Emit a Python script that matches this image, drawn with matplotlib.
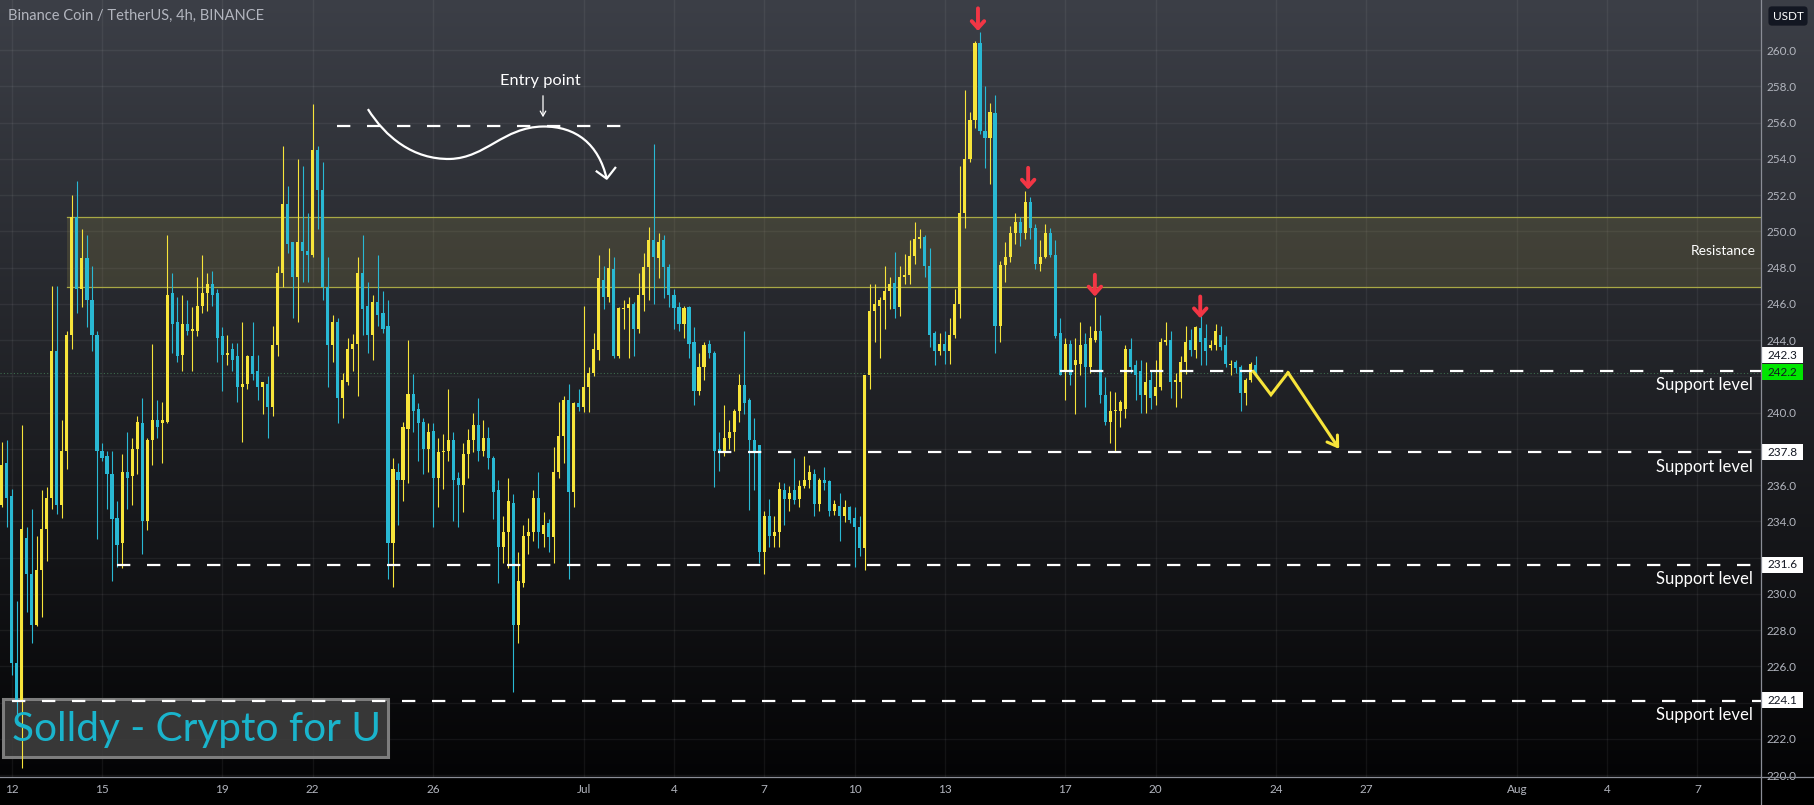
import numpy as np
import matplotlib
matplotlib.use("Agg")
import matplotlib.pyplot as plt
from matplotlib.patches import Rectangle, PathPatch
from matplotlib.path import Path

plt.rcParams['font.family'] = ['Lato', 'DejaVu Sans']

# 4h candles, index 0 = Jun 12 00:00
first_idx = -2
opens = [234.9, 237.2, 235.4, 226.2, 224.1, 233.1, 231.1, 228.3, 231.3, 233.6,
         235.3, 243.4, 234.9, 237.9, 244.3, 250.8, 246.8, 248.5, 246.2, 244.3,
         237.9, 237.6, 236.6, 234.2, 232.8, 236.7, 236.5, 238.0, 239.4, 234.0,
         238.5, 239.6, 239.4, 239.5, 246.6, 245.0, 243.2, 244.9, 244.5, 244.5,
         245.9, 246.6, 247.1, 246.6, 244.2, 243.2, 243.5, 243.1, 241.4, 241.6,
         243.1, 242.3, 241.4, 241.6, 240.3, 243.7, 247.7, 251.5, 249.4, 247.5,
         249.4, 248.9, 248.7, 254.5, 252.3, 246.9, 243.7, 245.0, 240.8, 241.7,
         243.5, 243.8, 247.7, 245.9, 244.3, 246.1, 245.5, 244.8, 232.8, 236.7,
         236.3, 239.1, 241.0, 240.2, 239.5, 238.0, 239.0, 236.4, 237.8, 237.9,
         238.5, 236.4, 236.0, 237.7, 238.5, 239.3, 237.9, 238.6, 237.5, 235.7,
         232.6, 233.4, 235.0, 228.3, 230.6, 233.2, 233.4, 235.3, 233.3, 233.9,
         233.15, 236.7, 238.7, 240.7, 235.6, 240.5, 240.3, 241.4, 242.2, 243.45,
         247.3, 246.4, 247.9, 243.1, 245.7, 245.75, 246.0, 244.6, 246.5, 248.05,
         249.5, 248.5, 249.5, 248.05, 246.5, 245.8, 244.9, 245.8, 243.9, 241.2,
         242.5, 243.8, 243.3, 238.0, 237.8, 238.6, 238.9, 240.1, 241.5, 240.7,
         238.5, 238.2, 232.3, 234.3, 233.2, 233.4, 235.7, 235.25, 235.75, 235.25,
         235.95, 236.3, 236.6, 234.96, 236.3, 236.2, 234.56, 234.86, 234.3, 234.76,
         234.16, 233.67, 232.5, 242.05, 245.6, 245.9, 246.2, 246.7, 247.17, 245.8,
         247.5, 247.57, 248.65, 249.6, 249.7, 248.06, 244.4, 243.4, 243.8, 243.4,
         244.3, 246.0, 251.0, 253.97, 256.14, 260.4, 255.55, 255.15, 256.5, 244.8,
         248.15, 248.6, 249.9, 250.5, 249.9, 251.6, 250.2, 248.2, 248.6, 249.9,
         248.7, 244.4, 242.3, 243.8, 242.6, 242.7, 243.8, 242.5, 244.0, 244.5,
         240.97, 239.5, 240.07, 240.1, 240.2, 243.5, 242.6, 242.3, 240.97, 241.8,
         240.9, 241.4, 243.9, 244.0, 241.7, 241.7, 242.8, 244.0, 243.45, 244.65,
         244.1, 243.55, 243.7, 244.3, 243.7, 242.6, 242.8, 242.5, 241.05, 241.8,
         242.6]
highs = [238.4, 238.5, 235.8, 229.6, 239.3, 233.7, 234.7, 233.2, 235.7, 235.9,
         247.0, 247.0, 239.6, 244.5, 252.0, 252.8, 250.1, 249.8, 248.1, 244.5,
         238.3, 237.9, 237.9, 235.1, 237.7, 238.9, 238.6, 239.8, 240.8, 238.6,
         243.8, 240.7, 240.6, 249.8, 247.7, 246.4, 246.5, 246.2, 245.8, 247.5,
         248.7, 247.7, 247.8, 246.8, 244.7, 244.3, 243.85, 243.85, 245.0, 243.2,
         245.0, 243.2, 241.7, 242.0, 244.8, 248.1, 254.7, 252.5, 249.4, 254.0,
         253.6, 251.0, 257.0, 254.7, 253.8, 248.6, 245.4, 245.2, 242.2, 244.1,
         244.35, 248.6, 249.8, 247.2, 246.5, 248.7, 246.7, 246.2, 237.5, 237.2,
         239.5, 244.0, 242.1, 240.5, 239.7, 239.4, 239.4, 238.6, 238.8, 241.3,
         238.9, 236.7, 238.3, 239.1, 240.0, 240.8, 239.6, 239.2, 237.6, 236.3,
         234.3, 236.4, 235.5, 232.3, 233.8, 234.2, 235.7, 236.7, 234.5, 234.1,
         238.1, 240.6, 240.9, 241.6, 240.6, 241.3, 245.9, 242.5, 244.4, 248.7,
         248.1, 249.1, 248.6, 245.8, 246.2, 246.4, 246.1, 247.7, 248.8, 250.25,
         254.8, 249.9, 249.8, 248.2, 246.8, 246.1, 245.9, 245.9, 244.7, 243.3,
         243.9, 244.0, 243.4, 238.9, 240.4, 239.6, 240.2, 242.1, 244.5, 240.8,
         239.7, 238.2, 234.56, 235.25, 234.3, 236.15, 236.1, 235.95, 237.5, 236.3,
         237.6, 237.1, 236.9, 236.4, 237.0, 236.3, 235.15, 235.55, 235.15, 234.86,
         234.76, 234.27, 242.05, 247.1, 247.1, 246.4, 248.06, 247.5, 248.85, 248.06,
         248.75, 249.5, 250.5, 250.1, 249.8, 249.05, 244.5, 244.4, 244.5, 245.2,
         246.8, 253.6, 257.8, 256.6, 260.5, 261.0, 258.0, 257.1, 257.5, 248.35,
         249.4, 250.3, 251.0, 250.8, 252.2, 251.9, 250.4, 249.5, 250.4, 250.2,
         249.5, 245.2, 244.1, 244.0, 244.1, 245.0, 244.4, 244.8, 246.4, 245.4,
         241.98, 241.2, 241.15, 240.7, 243.7, 244.1, 242.9, 242.9, 242.8, 242.35,
         242.9, 244.1, 245.0, 244.5, 242.2, 243.1, 244.8, 244.6, 244.8, 245.3,
         244.9, 243.98, 244.9, 244.8, 244.2, 242.9, 242.9, 242.6, 241.9, 242.8,
         243.1]
lows = [234.8, 233.7, 225.5, 223.2, 220.4, 229.0, 227.3, 228.2, 228.7, 231.8,
        234.7, 234.4, 234.2, 236.9, 243.5, 245.5, 245.8, 244.7, 243.4, 233.0,
        237.3, 234.7, 230.7, 231.5, 231.4, 234.7, 234.9, 236.6, 232.2, 233.5,
        237.1, 238.6, 237.2, 239.4, 243.3, 242.8, 242.3, 244.3, 242.3, 244.2,
        245.5, 245.6, 245.9, 242.8, 241.2, 242.6, 242.3, 240.6, 238.4, 241.3,
        241.8, 240.7, 239.9, 238.6, 239.8, 243.1, 246.9, 248.8, 245.2, 245.0,
        247.2, 247.2, 248.6, 250.1, 246.2, 241.4, 242.8, 239.4, 239.7, 241.5,
        242.3, 240.9, 244.3, 243.3, 242.9, 244.8, 244.4, 230.8, 230.4, 233.8,
        235.1, 236.1, 238.9, 237.3, 236.6, 236.7, 233.7, 234.8, 235.8, 237.3,
        234.0, 233.7, 234.5, 236.4, 237.8, 237.3, 237.6, 236.9, 234.1, 230.6,
        231.7, 231.4, 224.6, 227.3, 230.4, 232.2, 232.9, 232.5, 232.6, 232.3,
        231.7, 236.4, 237.2, 230.8, 234.8, 240.1, 240.05, 240.05, 242.0, 242.9,
        245.7, 246.1, 243.0, 243.0, 244.6, 243.0, 243.1, 244.4, 245.6, 246.2,
        246.0, 247.4, 246.3, 245.8, 244.6, 244.5, 244.1, 243.0, 240.4, 240.97,
        241.8, 243.0, 235.9, 236.8, 237.6, 238.0, 237.9, 239.5, 239.9, 234.6,
        235.7, 231.7, 231.1, 232.6, 232.6, 232.6, 233.8, 234.56, 234.96, 234.8,
        235.85, 235.85, 234.3, 234.56, 235.75, 234.3, 234.36, 232.9, 233.97, 233.9,
        231.5, 232.1, 231.3, 241.3, 243.9, 243.0, 244.6, 245.7, 245.2, 245.3,
        247.07, 247.07, 248.2, 249.05, 247.47, 243.6, 242.6, 243.2, 242.7, 242.7,
        244.1, 245.2, 250.2, 253.8, 255.7, 255.35, 253.5, 252.6, 243.3, 243.9,
        247.2, 248.3, 249.3, 249.2, 249.6, 249.6, 247.9, 247.8, 248.5, 248.6,
        244.1, 242.07, 240.7, 241.5, 239.9, 242.07, 240.3, 242.2, 243.9, 240.5,
        239.3, 238.3, 237.9, 239.2, 239.7, 242.2, 240.7, 239.96, 239.96, 240.2,
        240.4, 241.25, 243.7, 240.8, 240.3, 240.8, 242.1, 243.1, 243.0, 242.6,
        242.6, 243.45, 243.45, 243.45, 242.5, 242.07, 242.2, 240.1, 240.4, 241.7,
        241.98]
closes = [237.1, 235.3, 226.2, 224.1, 233.6, 231.1, 228.3, 231.3, 233.6, 235.3,
          243.4, 234.9, 237.9, 244.3, 250.8, 246.8, 248.5, 246.2, 244.3, 237.9,
          237.5, 236.6, 234.1, 232.7, 236.7, 236.4, 238.0, 239.5, 234.0, 238.5,
          239.6, 239.2, 239.6, 246.5, 244.9, 243.1, 244.9, 244.5, 244.6, 245.9,
          246.6, 247.1, 246.5, 244.1, 243.2, 243.3, 242.9, 241.4, 241.6, 243.1,
          242.1, 241.4, 241.7, 240.3, 243.7, 247.7, 251.5, 249.3, 247.5, 249.4,
          248.9, 248.7, 254.5, 252.3, 246.9, 243.7, 245.0, 240.8, 241.8, 243.5,
          243.8, 247.7, 245.7, 244.3, 246.1, 245.4, 244.6, 232.8, 236.9, 236.3,
          239.2, 241.0, 240.1, 239.4, 238.0, 238.9, 236.4, 237.8, 237.9, 238.5,
          236.3, 236.0, 237.7, 238.5, 239.3, 237.9, 238.6, 237.5, 235.6, 232.6,
          233.4, 235.1, 228.3, 230.7, 233.2, 233.4, 235.3, 233.4, 233.8, 233.15,
          236.7, 238.7, 240.7, 235.6, 240.5, 240.3, 241.4, 242.2, 243.5, 247.4,
          246.4, 247.95, 243.1, 245.75, 245.75, 246.0, 244.6, 246.5, 248.05, 249.5,
          248.6, 249.4, 248.05, 246.5, 245.75, 244.9, 245.75, 243.8, 241.2, 242.5,
          243.7, 243.3, 237.9, 237.8, 238.6, 238.9, 240.1, 241.5, 240.5, 238.5,
          237.8, 232.3, 234.3, 233.2, 233.4, 235.8, 235.25, 235.55, 235.15, 235.95,
          236.3, 236.7, 234.96, 236.3, 236.1, 234.56, 234.96, 234.3, 234.76, 234.07,
          233.67, 232.5, 242.05, 245.6, 246.0, 246.2, 246.7, 247.07, 245.7, 247.5,
          247.57, 248.65, 249.6, 249.7, 248.06, 244.3, 243.4, 243.8, 243.4, 244.3,
          246.0, 251.0, 253.97, 256.14, 260.4, 255.55, 255.15, 256.6, 244.8, 248.15,
          248.6, 249.9, 250.5, 249.9, 251.6, 250.2, 248.2, 248.6, 249.9, 248.7,
          244.2, 242.07, 243.8, 242.07, 242.9, 243.7, 242.5, 244.1, 244.5, 240.97,
          239.5, 240.1, 240.15, 240.6, 243.5, 242.5, 242.07, 240.97, 241.7, 240.8,
          241.4, 243.9, 244.0, 241.7, 241.8, 242.8, 243.9, 243.45, 244.7, 243.9,
          243.4, 243.7, 244.5, 243.6, 242.7, 242.7, 242.45, 241.05, 241.8, 242.7,
          242.2]

date_ticks = [0, 18, 42, 60, 84, 114, 132, 150, 168, 186, 210, 228, 252, 270, 300, 318, 336]
date_labels = ['12', '15', '19', '22', '26', 'Jul', '4', '7', '10', '13', '17', '20',
               '24', '27', 'Aug', '4', '7']
price_ticks = np.arange(220, 261, 2)
hidden_ticks = [224, 232, 238, 242]  # covered by the level labels

support_levels = [242.3, 237.8, 231.6, 224.1]
support_start = [208.9, 140.8, 21.0, 0.1]
resistance_zone = (246.94, 250.77)
resistance_start = 11.0
last_price = 242.2
entry_level = 255.82

# red markers at local highs: (x, tail, tip)
red_arrows = [(192.6, 262.3, 261.05), (202.6, 253.5, 252.3),
              (215.9, 247.6, 246.4), (236.9, 246.4, 245.2)]
proj_x = [247.5, 251.0, 254.4, 264.6]
proj_y = [242.26, 240.98, 242.2, 237.99]

BG_TOP = np.array([60, 63, 71]) / 255
BG_BOT = np.array([4, 4, 5]) / 255
UP = '#f7e43a'
DOWN = '#29b8d3'
TXT = '#b2b5be'

W, H = 1815, 805
fig = plt.figure(figsize=(W / 100, H / 100), dpi=100)

# background gradient
bg = fig.add_axes([0, 0, 1, 1])
t = np.clip(np.arange(H) / 777.0, 0, 1)[:, None]
grad = BG_TOP * (1 - t) + BG_BOT * t
grad[777:] = 0
img = np.repeat(grad[:, None, :], 2, axis=1)
bg.imshow(img, aspect='auto', extent=[0, 1, 0, 1], origin='upper')
bg.axis('off')

ax = fig.add_axes([0, 28 / H, 1761 / W, 777 / H])
ax.patch.set_alpha(0)
for s in ax.spines.values():
    s.set_visible(False)
ax.set_xlim(-2.33, 348.67)
ax.set_ylim(219.89, 262.76)

ax.set_yticks(price_ticks)
ax.set_yticklabels(['' if v in hidden_ticks else f'{v:.1f}' for v in price_ticks])
ax.yaxis.tick_right()
ax.tick_params(axis='y', length=0, pad=4.3, labelsize=8.5, labelcolor=TXT)
ax.set_xticks(date_ticks)
ax.set_xticklabels(date_labels)
ax.tick_params(axis='x', length=0, pad=5, labelsize=8.5, labelcolor=TXT)
ax.grid(True, color='white', alpha=0.06, lw=1)
ax.set_axisbelow(True)

# axis border lines
fig.add_artist(plt.Line2D([1761 / W, 1761 / W], [0, 1], color='#8a8d96', lw=0.9))
fig.add_artist(plt.Line2D([0, 1], [28 / H, 28 / H], color='#8a8d96', lw=0.9))

# resistance zone
ax.add_patch(Rectangle((resistance_start, resistance_zone[0]), 400,
                       resistance_zone[1] - resistance_zone[0],
                       fc=(0.62, 0.58, 0.3, 0.2), ec='none', zorder=1))
for yv in resistance_zone:
    ax.plot([resistance_start, 400], [yv, yv], color='#a8a845', lw=0.9, zorder=1)
ax.text(1756 / 1761, 248.93, 'Resistance', transform=ax.get_yaxis_transform(),
        ha='right', va='center', color='white', fontsize=10, zorder=6)

# watermark box (under candles and level lines)
ax.add_patch(Rectangle((3 / W, 1 - 757 / H), 385 / W, 58 / H, transform=fig.transFigure,
                       fc=(0.25, 0.25, 0.25, 0.85), ec='#7d7d7d', lw=2.2, zorder=2))

# candles
idx = np.arange(first_idx, first_idx + len(opens))
o = np.array(opens); h = np.array(highs); l = np.array(lows); c = np.array(closes)
cols = np.where(c >= o, UP, DOWN)
ax.vlines(idx, l, h, colors=cols, lw=0.8, zorder=3)
body = np.maximum(np.abs(c - o), 0.08)
ax.bar(idx, body, bottom=np.minimum(o, c), width=0.62, color=cols, zorder=3)

# last price dotted
ax.axhline(last_price, color=(0.35, 0.7, 0.45, 0.5), lw=0.8, ls=(0, (1, 2)), zorder=2)

# support levels
tf = ax.get_yaxis_transform()
for lvl, x0 in zip(support_levels, support_start):
    ax.plot([x0, 400], [lvl, lvl], color='white', lw=1.6, ls=(0, (6, 7.5)), zorder=4)
    ax.text(1753 / 1761, lvl - 0.78, 'Support level', transform=tf, ha='right',
            va='center', color='white', fontsize=12, zorder=6)

# right-axis price labels
box_w = (1803 - 1761) / 1761
bh = 16 / 18.125
for lvl, yc, fc in [(242.3, 243.17, 'white'), (237.8, 237.82, 'white'),
                    (231.6, 231.6, 'white'), (224.1, 224.12, 'white'),
                    (last_price, 242.23, '#00e600')]:
    ax.add_patch(Rectangle((1.0, yc - bh / 2), box_w, bh, transform=tf, fc=fc,
                           ec='none', clip_on=False, zorder=7))
    ax.text(1768 / 1761, yc, f'{lvl:.1f}', transform=tf, ha='left', va='center',
            color='#131722', fontsize=8.5, clip_on=False, zorder=8)

# entry point sketch
ax.plot([64.8, 123.8], [entry_level, entry_level], color='white', lw=1.6,
        ls=(0, (6, 7.5)), zorder=4)
verts = [(71.0, 256.74), (74.5, 255.2), (80.0, 253.95), (87.4, 253.99),
         (94.5, 254.05), (98.0, 255.75), (105.9, 255.78),
         (112.5, 255.8), (117.0, 254.8), (118.6, 252.9)]
codes = [Path.MOVETO] + [Path.CURVE4] * 9
ax.add_patch(PathPatch(Path(verts, codes), fc='none', ec='white', lw=1.6, zorder=5))
ax.plot([116.6, 118.6, 120.3], [253.3, 252.9, 253.5], color='white', lw=1.6, zorder=5)
ax.annotate('', xy=(105.9, 256.14), xytext=(105.9, 257.63),
            arrowprops=dict(arrowstyle='->,head_length=0.35,head_width=0.2', color='white', lw=0.9))
ax.text(105.3, 258.29, 'Entry point', ha='center', va='center', color='white', fontsize=11.8)

# red arrows
for x, tail, tip in red_arrows:
    ax.annotate('', xy=(x, tip), xytext=(x, tail), annotation_clip=False,
                arrowprops=dict(arrowstyle='->,head_length=0.5,head_width=0.45',
                                color='#f23645', lw=2.8, shrinkA=0, shrinkB=0), zorder=6)

# yellow projection
ax.plot(proj_x[:-1], proj_y[:-1], color=UP, lw=2.2, zorder=6, solid_joinstyle='miter')
ax.annotate('', xy=(proj_x[-1], proj_y[-1]), xytext=(proj_x[-2], proj_y[-2]),
            arrowprops=dict(arrowstyle='->,head_length=0.7,head_width=0.45', color=UP,
                            lw=2.2, shrinkA=0, shrinkB=0), zorder=6)

# header texts
fig.text(8 / W, 1 - 16 / H, 'Binance Coin / TetherUS, 4h, BINANCE', ha='left', va='center',
         color=TXT, fontsize=10.5)
fig.text(1788 / W, 1 - 16 / H, 'USDT', ha='center', va='center', color='white', fontsize=8.5,
         bbox=dict(boxstyle='round,pad=0.35,rounding_size=0.3', fc='#131722', ec='none'))
fig.text(12 / W, 1 - 729 / H, 'Solldy - Crypto for U', ha='left', va='center',
         color='#1ab4cc', fontsize=29.2, zorder=9)

fig.savefig('out.png', dpi=100, facecolor='black')
